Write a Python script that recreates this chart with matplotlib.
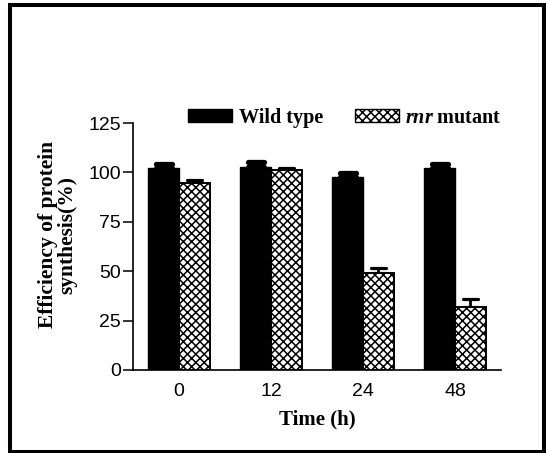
import numpy as np
import matplotlib
matplotlib.use("Agg")
import matplotlib.pyplot as plt
from matplotlib.patches import Rectangle, Patch
from matplotlib.markers import MarkerStyle

plt.rcParams["mathtext.fontset"] = "custom"
plt.rcParams["mathtext.it"] = "Liberation Serif:italic:bold"
plt.rcParams["hatch.linewidth"] = 1.1

# data
times = ["0", "12", "24", "48"]
wild_type = [102.1, 102.7, 97.7, 102.2]
wild_type_err = [2.2, 2.6, 2.0, 2.1]
mutant = [94.8, 101.2, 48.9, 32.0]
mutant_err = [1.4, 1.2, 2.7, 3.9]
yticks = [0, 25, 50, 75, 100, 125]

fig = plt.figure(figsize=(5.46, 4.53), dpi=100)
ax = fig.add_axes([133 / 546, 1 - 370 / 453, 368 / 546, 247 / 453])

x = np.arange(len(times))
w = 0.335
ax.bar(x - w / 2, wild_type, w, color="black", edgecolor="black", zorder=2)
_, caps, _ = ax.errorbar(x - w / 2, wild_type, yerr=[np.zeros(4), wild_type_err],
                         fmt="none", ecolor="black", elinewidth=2, capsize=5.8,
                         capthick=3.8, zorder=1)
for c in caps:
    c.set_marker(MarkerStyle("_", capstyle="round"))
ax.bar(x + w / 2, mutant, w, color="white", edgecolor="black", hatch="xxxx",
       linewidth=1.4, zorder=2)
_, caps, _ = ax.errorbar(x + w / 2, mutant, yerr=[np.zeros(4), mutant_err], fmt="none",
                         ecolor="black", elinewidth=2, capsize=5.4, capthick=2.3, zorder=1)
for c in caps:
    c.set_marker(MarkerStyle("_", capstyle="round"))

ax.set_xlim(-0.5, 3.5)
ax.set_ylim(0, 125)
ax.set_xticks(x)
ax.set_xticklabels(times, family="Liberation Sans", fontsize=14)
ax.set_yticks(yticks)
ax.set_yticklabels([str(t) for t in yticks], family="Liberation Sans", fontsize=14)
ax.tick_params(axis="x", length=0, pad=9)
ax.tick_params(axis="y", length=7, width=1.1, pad=1.5)
for s in ["top", "right"]:
    ax.spines[s].set_visible(False)
for s in ["left", "bottom"]:
    ax.spines[s].set_linewidth(1.2)

ax.set_xlabel("Time (h)", family="Liberation Serif", fontweight="bold",
              fontsize=15, labelpad=7)
ax.set_ylabel("Efficiency of protein\nsynthesis(%)", family="Liberation Serif",
              fontweight="bold", fontsize=15.5, linespacing=0.95)
ax.yaxis.set_label_coords(-0.152, 0.547)

handles = [Patch(facecolor="black", edgecolor="black"),
           Patch(facecolor="white", edgecolor="black", hatch="xxxx", linewidth=1)]
labels = ["Wild type", "$\\mathit{rnr}$ mutant"]
ax.legend(handles, labels, ncol=2, frameon=False, loc="center left",
          bbox_to_anchor=(0.128, 1.022), handlelength=2.2, handleheight=0.6,
          handletextpad=0.3, columnspacing=1.6, borderaxespad=0,
          prop={"family": "Liberation Serif", "weight": "bold", "size": 14.5})

fig.patches.append(Rectangle((10 / 546, 1 - 451.5 / 453), 534 / 546, 446.5 / 453,
                             transform=fig.transFigure, fill=False,
                             edgecolor="black", linewidth=2.9))

fig.savefig("out.png", dpi=100)
